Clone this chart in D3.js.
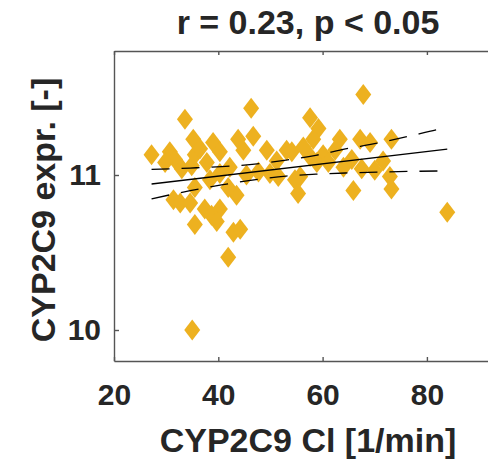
<!DOCTYPE html>
<html>
<head>
<meta charset="utf-8">
<script src="https://cdn.jsdelivr.net/npm/d3@7"></script>
<style>
  html, body { margin: 0; padding: 0; background: #fff; }
  svg { display: block; }
  text { font-family: "Liberation Sans", Arial, sans-serif; font-weight: bold; fill: #262626; }
</style>
</head>
<body>
<svg id="chart" width="488" height="460"></svg>
<script>
// CYP2C9 clearance vs. CYP2C9 expression, one diamond per sample
const clearance = [
  27.2, 33.6, 46.3, 35.2, 39.0, 40.3, 43.8, 46.7, 30.7, 31.7,
  33.0, 34.9, 35.5, 29.8, 49.3, 53.1, 51.2, 54.7, 31.4, 32.7,
  34.6, 35.5, 37.4, 38.7, 40.3, 39.7, 35.5, 42.9, 44.2, 41.9,
  43.5, 41.9, 38.4, 40.3, 45.4, 47.7, 49.9, 51.5, 37.8, 42.2,
  44.8, 36.5,
  67.8, 57.6, 59.2, 58.2, 63.3, 67.2, 69.1, 73.2, 57.6, 60.1,
  61.1, 64.0, 65.6, 67.5, 71.6, 72.9, 73.2, 65.9, 55.7, 55.3,
  54.1, 56.3, 58.9, 62.4, 70.0, 83.9, 35.0
];
const expression = [
  11.13, 11.36, 11.43, 11.23, 11.21, 11.15, 11.23, 11.25, 11.15, 11.10,
  11.04, 11.06, 11.13, 11.08, 11.16, 11.16, 11.09, 10.97, 10.84, 10.82,
  10.82, 10.92, 10.78, 10.74, 10.78, 10.70, 10.68, 10.63, 10.65, 10.47,
  10.87, 10.92, 10.97, 11.01, 11.00, 11.02, 11.01, 10.99, 11.08, 11.05,
  11.16, 11.17,
  11.52, 11.37, 11.30, 11.23, 11.23, 11.23, 11.21, 11.23, 11.12, 11.13,
  11.08, 11.05, 11.10, 11.04, 11.09, 10.99, 10.91, 10.90, 10.99, 10.88,
  11.15, 11.18, 11.08, 11.16, 11.03, 10.76, 10.00
];

// least-squares line and its 95% confidence band
const fitX = [27.2, 83.9];
const fitY = [10.942, 11.167];
const bandX = [27.2, 34.6, 40.6, 46.5, 53.0, 58.7, 64.4, 70.5, 76.3, 82.1, 83.9];
const bandUpper = [11.036, 11.045, 11.054, 11.068, 11.096, 11.127, 11.168, 11.206, 11.248, 11.293, 11.305];
const bandLower = [10.846, 10.899, 10.936, 10.967, 10.993, 11.005, 11.013, 11.019, 11.023, 11.026, 11.027];

const xTicks = [20, 40, 60, 80];
const yTicks = [10, 11];
const titleText = "r = 0.23, p < 0.05";
const xLabel = "CYP2C9 Cl [1/min]";
const yLabel = "CYP2C9 expr. [-]";

const svg = d3.select("#chart");
const plotLeft = 114, plotRight = 502, plotTop = 51, plotBottom = 361;

const x = d3.scaleLinear().domain([20, 94.4]).range([plotLeft, plotRight]);
const y = d3.scaleLinear().domain([9.8, 11.8]).range([plotBottom, plotTop]);

const axisColor = "#262626";
const axisLineColor = "#555555";

// scatter points (diamonds)
const diamond = "M0,-10.5L8,0L0,10.5L-8,0Z";
svg.append("g")
  .selectAll("path")
  .data(clearance.map((c, i) => [c, expression[i]]))
  .join("path")
  .attr("d", diamond)
  .attr("transform", d => `translate(${x(d[0])},${y(d[1])})`)
  .attr("fill", "#EDB120");

// regression line
const line = d3.line().x(d => x(d[0])).y(d => y(d[1]));
svg.append("path")
  .attr("d", line(fitX.map((v, i) => [v, fitY[i]])))
  .attr("fill", "none").attr("stroke", "#000").attr("stroke-width", 1.3);

// confidence bounds
const curve = d3.line().x(d => x(d[0])).y(d => y(d[1])).curve(d3.curveMonotoneX);
[bandUpper, bandLower].forEach(b => {
  svg.append("path")
    .attr("d", curve(bandX.map((v, i) => [v, b[i]])))
    .attr("fill", "none").attr("stroke", "#000").attr("stroke-width", 1.3)
    .attr("stroke-dasharray", "18,12");
});

// axes with inward ticks
const xAxis = svg.append("g")
  .attr("transform", `translate(0,${plotBottom})`)
  .call(d3.axisBottom(x).tickValues(xTicks).tickFormat(d3.format("d"))
    .tickSizeInner(-4).tickSizeOuter(0).tickPadding(23));
const xTop = svg.append("g")
  .attr("transform", `translate(0,${plotTop})`)
  .call(d3.axisTop(x).tickValues(xTicks).tickSizeInner(-4).tickSizeOuter(0).tickFormat(""));
const yAxis = svg.append("g")
  .attr("transform", `translate(${plotLeft},0)`)
  .call(d3.axisLeft(y).tickValues(yTicks).tickFormat(d3.format("d"))
    .tickSizeInner(-5).tickSizeOuter(0).tickPadding(13));

[xAxis, xTop, yAxis].forEach(g => {
  g.select(".domain").attr("stroke", axisLineColor).attr("stroke-width", 1.4);
  g.selectAll(".tick line").attr("stroke", axisLineColor).attr("stroke-width", 1.4);
  g.selectAll(".tick text")
    .attr("fill", axisColor)
    .style("font-family", '"Liberation Sans", Arial, sans-serif')
    .style("font-weight", "bold")
    .style("font-size", "30px");
});

// title and axis labels
svg.append("text")
  .attr("x", (plotLeft + plotRight) / 2).attr("y", 34)
  .attr("text-anchor", "middle")
  .style("font-size", "34px")
  .text(titleText);

svg.append("text")
  .attr("x", (plotLeft + plotRight) / 2).attr("y", 452)
  .attr("text-anchor", "middle")
  .style("font-size", "34px")
  .text(xLabel);

svg.append("text")
  .attr("transform", `translate(55,${(plotTop + plotBottom) / 2 + 4}) rotate(-90)`)
  .attr("text-anchor", "middle")
  .style("font-size", "34px")
  .text(yLabel);
</script>
</body>
</html>
